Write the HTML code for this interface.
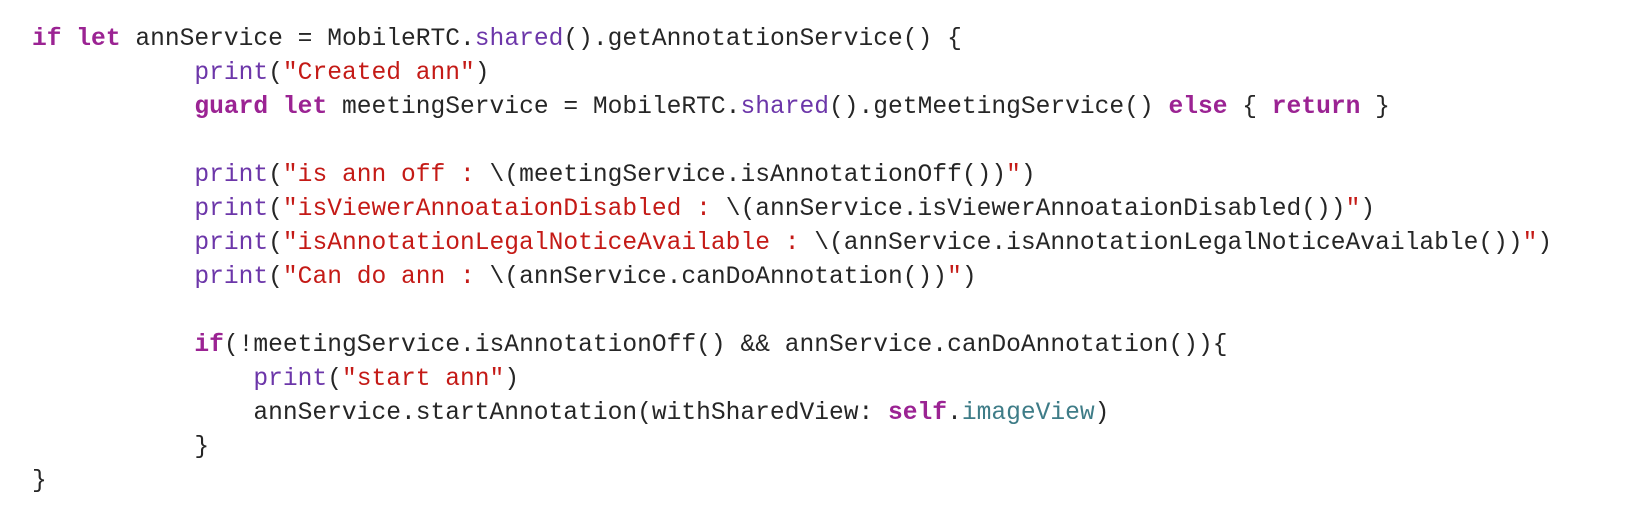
<!DOCTYPE html>
<html><head><meta charset="utf-8"><style>
body{margin:0;background:#fff;width:1630px;height:508px;overflow:hidden}
pre{margin:0;position:absolute;left:32px;top:23px;font-family:"Liberation Mono",monospace;font-size:24.6px;line-height:34.0px;color:#262626}
.k{color:#9b2393;font-weight:bold}
.f{color:#6c36a9}
.s{color:#c41a16}
.t{color:#3e7c87}
</style></head><body>
<pre><span class="k">if</span> <span class="k">let</span> annService = MobileRTC.<span class="f">shared</span>().getAnnotationService() {
           <span class="f">print</span>(<span class="s">"Created ann"</span>)
           <span class="k">guard</span> <span class="k">let</span> meetingService = MobileRTC.<span class="f">shared</span>().getMeetingService() <span class="k">else</span> { <span class="k">return</span> }

           <span class="f">print</span>(<span class="s">"is ann off : </span>\(meetingService.isAnnotationOff())<span class="s">"</span>)
           <span class="f">print</span>(<span class="s">"isViewerAnnoataionDisabled : </span>\(annService.isViewerAnnoataionDisabled())<span class="s">"</span>)
           <span class="f">print</span>(<span class="s">"isAnnotationLegalNoticeAvailable : </span>\(annService.isAnnotationLegalNoticeAvailable())<span class="s">"</span>)
           <span class="f">print</span>(<span class="s">"Can do ann : </span>\(annService.canDoAnnotation())<span class="s">"</span>)

           <span class="k">if</span>(!meetingService.isAnnotationOff() &amp;&amp; annService.canDoAnnotation()){
               <span class="f">print</span>(<span class="s">"start ann"</span>)
               annService.startAnnotation(withSharedView: <span class="k">self</span>.<span class="t">imageView</span>)
           }
}</pre>
</body></html>
